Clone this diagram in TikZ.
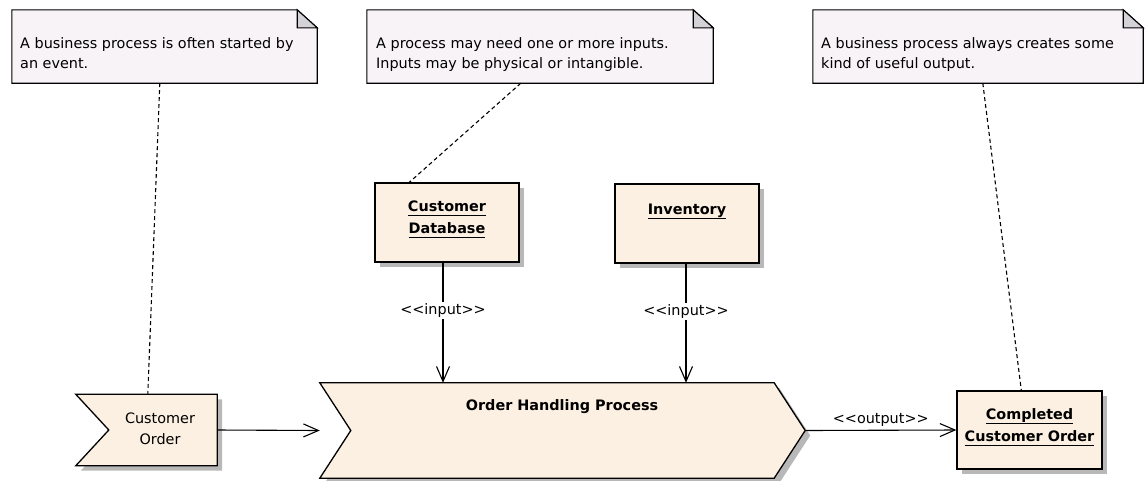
\documentclass[tikz,border=0pt]{standalone}
\usepackage{fontspec}
\setmainfont{DejaVu Sans}
\usetikzlibrary{arrows.meta,shadows,calc}
\definecolor{notefill}{HTML}{F7F3F7}
\definecolor{foldfill}{HTML}{D4D2D6}
\definecolor{boxfill}{HTML}{FBF0E1}
\definecolor{shadowgray}{HTML}{B8B8B8}
\newcommand{\uln}[1]{\leavevmode\setbox0\hbox{#1}\rlap{\rule[-4.6pt]{\wd0}{1.2pt}}\box0}
\tikzset{
  txt/.style={font=\fontsize{14.4}{20}\selectfont, inner sep=0pt, align=left},
  boldtxt/.style={font=\bfseries\fontsize{14.4}{21.5}\selectfont, inner sep=0pt, align=center},
  ctxt/.style={font=\fontsize{14.4}{21}\selectfont, inner sep=0pt, align=center},
  ghost/.style={rectangle, draw=none, inner sep=0pt, minimum width=#1},
  notebox/.style={rectangle, draw=none, inner sep=0pt, minimum height=73pt},
  noteline/.style={draw=black, line width=1.1pt, fill=notefill},
  foldline/.style={draw=black, line width=1.1pt, fill=foldfill},
  objbox/.style={rectangle, draw=black, line width=1.4pt, fill=boxfill, inner sep=0pt,
    drop shadow={shadow xshift=5pt, shadow yshift=-5pt, fill=shadowgray, opacity=1}},
  shapeline/.style={draw=black, line width=1.3pt, fill=boxfill,
    drop shadow={shadow xshift=5pt, shadow yshift=-5pt, fill=shadowgray, opacity=1}},
  noteconn/.style={draw=black, line width=1.1pt, dash pattern=on 4pt off 3pt},
  conn/.style={draw=black, line width=1.1pt, -{Straight Barb[length=15pt,width=13pt,line width=1.1pt]}},
  lbl/.style={font=\fontsize{14.4}{16}\selectfont, fill=white, inner sep=1.5pt},
}
\begin{document}
\begin{tikzpicture}[x=1pt,y=-1pt]
\useasboundingbox (0,0) rectangle (1145,480);

% ---- notes ----
\node[notebox, minimum width=305pt] (note1) at (164.5,46.5) {};
\node[notebox, minimum width=346pt] (note2) at (540,46.5) {};
\node[notebox, minimum width=330pt] (note3) at (978,46.5) {};
\foreach \n in {note1,note2,note3}{
  \draw[noteline] (\n.north west) -- ([xshift=-20pt]\n.north east) -- ([yshift=-18pt]\n.north east)
     -- (\n.south east) -- (\n.south west) -- cycle;
  \draw[foldline] ([xshift=-20pt]\n.north east) -- ([xshift=-20pt,yshift=-18pt]\n.north east)
     -- ([yshift=-18pt]\n.north east) -- cycle;
}
\node[txt, anchor=north west] (note1text) at (20,37.5) {A business process is often started by\\an event.};
\node[txt, anchor=north west] (note2text) at (376,37.5) {A process may need one or more inputs.\\Inputs may be physical or intangible.};
\node[txt, anchor=north west] (note3text) at (821,37.5) {A business process always creates some\\kind of useful output.};

% ---- object boxes ----
\node[objbox, minimum width=144pt, minimum height=79pt] (db) at (447,222.5) {};
\node[objbox, minimum width=144pt, minimum height=79pt] (inv) at (687,223.5) {};
\node[objbox, minimum width=145pt, minimum height=78pt] (comp) at (1029.5,430) {};
\node[boldtxt, anchor=north] (dbtext) at (447,201) {\uln{Customer}\\\uln{Database}};
\node[boldtxt, anchor=north] (invtext) at (687,203.5) {\uln{Inventory}};
\node[boldtxt, anchor=north] (comptext) at (1029.5,408.5) {\uln{Completed}\\\uln{Customer Order}};

% ---- event and process ----
\node[ghost=141pt, minimum height=71pt] (order) at (146.5,430) {};
\draw[shapeline] (order.north west) -- (order.north east) -- (order.south east) -- (order.south west)
   -- ([xshift=33pt]order.west) -- cycle;
\node[ctxt, anchor=north] (ordertext) at (160,412.5) {Customer\\Order};

\node[ghost=485pt, minimum height=95pt] (proc) at (562.5,430.5) {};
\draw[shapeline] (proc.north west) -- ([xshift=-31pt]proc.north east) -- (proc.east)
   -- ([xshift=-31pt]proc.south east) -- (proc.south west) -- ([xshift=31pt]proc.west) -- cycle;
\node[boldtxt, anchor=north] (proctext) at (562,399.5) {Order Handling Process};

% ---- note connectors ----
\draw[noteconn] ([xshift=148pt]note1.south west) -- ([xshift=72pt]order.north west);
\draw[noteconn] ([xshift=154pt]note2.south west) -- ([xshift=35pt]db.north west);
\draw[noteconn] ([xshift=170pt]note3.south west) -- ([xshift=65pt]comp.north west);

% ---- flow connectors ----
\draw[conn] ([xshift=-4pt]db.south) -- node[lbl, pos=0.4] (in1) {<{}<input>{}>} ([xshift=-4pt]db.south |- proc.north);
\draw[conn] ([xshift=-1pt]inv.south) -- node[lbl, pos=0.4] (in2) {<{}<input>{}>} ([xshift=-1pt]inv.south |- proc.north);
\draw[conn] (order.east) -- (proc.west);
\draw[conn] (proc.east) -- node[lbl, above=2pt, fill=none] (out) {<{}<output>{}>} (comp.west);
\end{tikzpicture}
\end{document}
